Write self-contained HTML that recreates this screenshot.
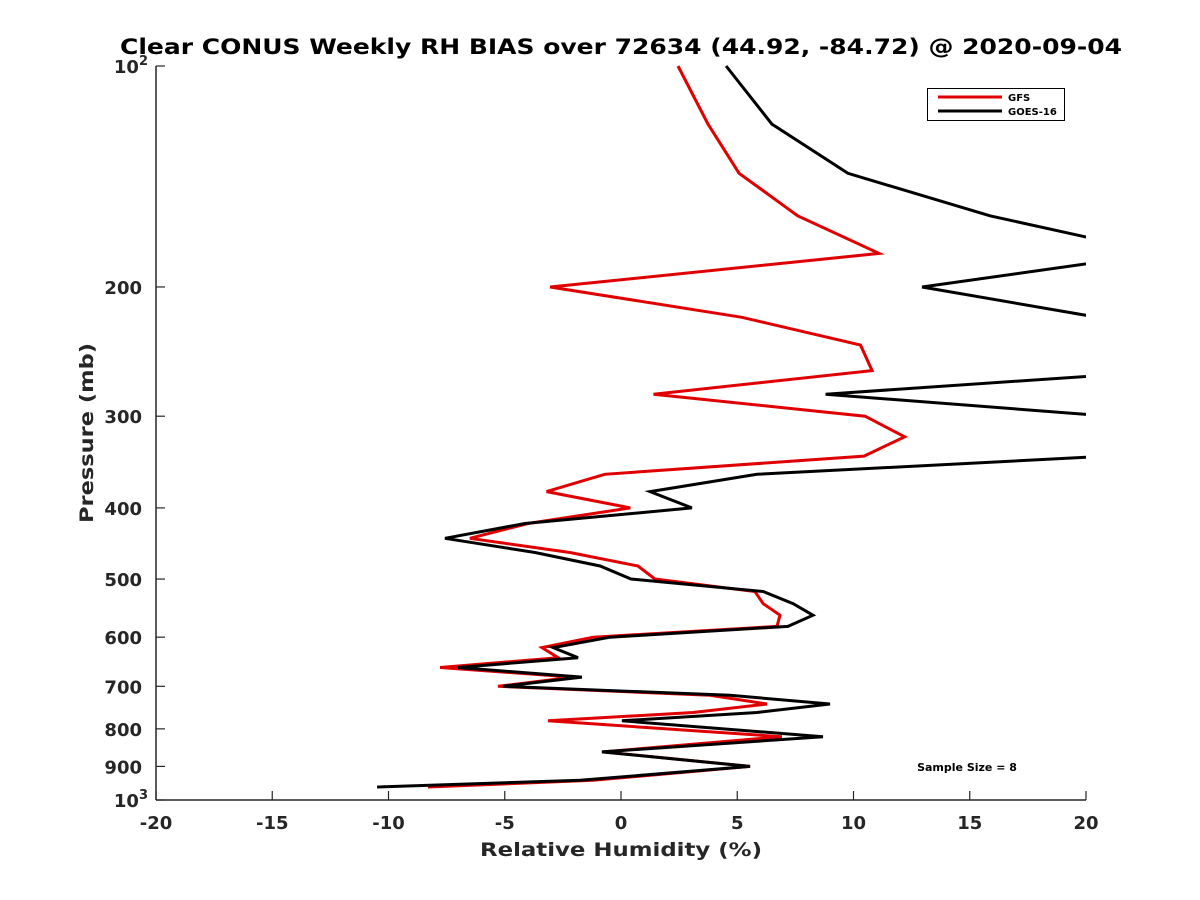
<!DOCTYPE html>
<html><head><meta charset="utf-8"><style>
body{margin:0;background:#fff}
svg{display:block;font-family:"DejaVu Sans","Liberation Sans",sans-serif;font-weight:bold}
</style></head><body>
<svg id="chart" width="1200" height="900" viewBox="0 0 1200 900">
<defs><clipPath id="plotclip"><rect x="156" y="60" width="930" height="745"/></clipPath></defs>
<rect width="1200" height="900" fill="#fff"/>
<text x="621" y="54" text-anchor="middle" font-size="21" fill="#000" textLength="1002" lengthAdjust="spacingAndGlyphs">Clear CONUS Weekly RH BIAS over 72634 (44.92, -84.72) @ 2020-09-04</text>
<g id="axes"></g>
<g id="series" clip-path="url(#plotclip)"></g>
<text x="621" y="856" text-anchor="middle" font-size="19" fill="#262626" textLength="282" lengthAdjust="spacingAndGlyphs">Relative Humidity (%)</text>
<text transform="translate(93,433) rotate(-90)" text-anchor="middle" font-size="19" fill="#262626" textLength="180" lengthAdjust="spacingAndGlyphs">Pressure (mb)</text>
<text x="967" y="771" text-anchor="middle" font-size="11" fill="#000">Sample Size = 8</text>
<g>
<rect x="927.5" y="88.5" width="137" height="32" fill="#fff" stroke="#000" stroke-width="1"/>
<line x1="938" y1="97" x2="1002" y2="97" stroke="#e00000" stroke-width="3"/>
<text x="1008" y="101" font-size="10">GFS</text>
<line x1="938" y1="111" x2="1002" y2="111" stroke="#000" stroke-width="3"/>
<text x="1008" y="115" font-size="10">GOES-16</text>
</g>
</svg>
<script>
const pressures=[100,120,140,160,180,200,220,240,260,280,300,320,340,360,380,400,420,440,460,480,500,520,540,560,580,600,620,640,660,680,700,720,740,760,780,820,860,900,940,960];
const gfsValues=[2.45,3.74,5.08,7.6,11.1,-3.05,5.2,10.3,10.8,1.4,10.5,12.2,10.45,-0.7,-3.2,0.4,-4.0,-6.5,-2.2,0.73,1.46,5.76,6.11,6.84,6.71,-1.2,-3.4,-2.7,-7.78,-2.06,-5.29,3.83,6.28,3.1,-3.14,6.92,-0.77,5.55,-1.2,-8.3];
const goesValues=[4.52,6.49,9.76,15.87,23.2,12.95,20.5,25,23.7,8.8,21,25,21,5.85,1.25,3.05,-4.13,-7.57,-3.7,-0.9,0.43,6.11,7.40,8.26,7.18,-0.47,-2.92,-1.85,-7.01,-1.68,-5.08,4.69,8.99,5.85,0.04,8.69,-0.82,5.55,-1.76,-10.49];
const xTicks=[-20,-15,-10,-5,0,5,10,15,20];
const yTicks=[100,200,300,400,500,600,700,800,900,1000];
const yTickLabels=["10|2","200","300","400","500","600","700","800","900","10|3"];
const NS="http://www.w3.org/2000/svg";
const X0=156,X1=1086,Y0=66,Y1=800;
function xs(v){return X0+(v+20)/40*(X1-X0);}
function ys(p){return Y0+Math.log10(p/100)*(Y1-Y0);}
function mk(t,a,parent){const e=document.createElementNS(NS,t);for(const k in a)e.setAttribute(k,a[k]);parent.appendChild(e);return e;}
const axes=document.getElementById('axes');
const ax=mk('line',{x1:X0,y1:Y1,x2:X1,y2:Y1,stroke:'#262626','stroke-width':1.5},axes);


const ay=mk('line',{x1:X0,y1:Y0,x2:X0,y2:Y1,stroke:'#262626','stroke-width':1.5},axes);


xTicks.forEach(v=>{
 const x=xs(v);
 mk('line',{x1:x,y1:Y1,x2:x,y2:Y1-9,stroke:'#262626','stroke-width':1.2},axes);
 const t=mk('text',{x:x,y:Y1+29,'text-anchor':'middle','font-size':18,fill:'#262626'},axes);
 t.textContent=v;
 
 
});
yTicks.forEach((p,i)=>{
 const y=ys(p);
 mk('line',{x1:X0,y1:y,x2:X0+9,y2:y,stroke:'#262626','stroke-width':1.2},axes);
 const lab=yTickLabels[i];
 if(lab.indexOf('|')>=0){
  const parts=lab.split('|');
  const t=mk('text',{x:X0-8,y:y+7,'text-anchor':'end','font-size':18,fill:'#262626'},axes);
  
  
  const a=mk('tspan',{},t);a.textContent=parts[0];
  const b=mk('tspan',{dy:-8,'font-size':13},t);b.textContent=parts[1];
 }else{
  const t=mk('text',{x:X0-14,y:y+7,'text-anchor':'end','font-size':18,fill:'#262626'},axes);
  t.textContent=lab;
  
  
 }
});
const series=document.getElementById('series');
function draw(vals,color,name){
 const d=vals.map((v,i)=>(i?'L':'M')+xs(v).toFixed(1)+','+ys(pressures[i]).toFixed(1)).join('');
 const p=mk('path',{d:d,fill:'none',stroke:color,'stroke-width':3,'stroke-linejoin':'miter'},series);
 
 
}
draw(gfsValues,'#e00000','gfs-line');
draw(goesValues,'#000','goes16-line');
</script>
</body></html>
